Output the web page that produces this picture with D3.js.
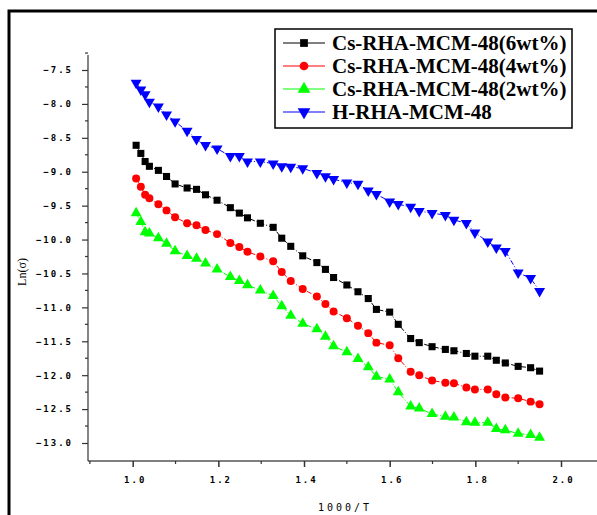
<!DOCTYPE html>
<html>
<head>
<meta charset="utf-8">
<script src="https://d3js.org/d3.v7.min.js"></script>
<style>
  body { margin: 0; background: #fff; }
  .tick text { font-family: "DejaVu Sans Mono", monospace; font-weight: bold; font-size: 9px; letter-spacing: 2px; fill: #000; }
</style>
</head>
<body>
<div class="chart"></div>
<script>
var svgWidth = 597;
var svgHeight = 515;

// 1000/T values (shared by all series)
var invT = [1.008, 1.019, 1.029, 1.039, 1.06, 1.079, 1.099, 1.127, 1.149, 1.17,
  1.197, 1.228, 1.249, 1.268, 1.298, 1.328, 1.348, 1.369, 1.397, 1.43,
  1.45, 1.469, 1.5, 1.526, 1.55, 1.569, 1.6, 1.62, 1.649, 1.669,
  1.699, 1.73, 1.75, 1.779, 1.799, 1.829, 1.849, 1.87, 1.9, 1.929, 1.95];

var cs6 = [-8.61, -8.73, -8.85, -8.92, -8.98, -9.07, -9.18, -9.24, -9.26, -9.34,
  -9.42, -9.53, -9.61, -9.68, -9.76, -9.82, -9.98, -10.10, -10.24, -10.34,
  -10.44, -10.56, -10.67, -10.77, -10.87, -11.03, -11.07, -11.25, -11.46, -11.52,
  -11.58, -11.62, -11.64, -11.68, -11.72, -11.72, -11.78, -11.82, -11.87, -11.89, -11.94];

var cs4 = [-9.10, -9.22, -9.34, -9.39, -9.48, -9.57, -9.67, -9.76, -9.79, -9.86,
  -9.92, -10.05, -10.11, -10.18, -10.25, -10.32, -10.48, -10.61, -10.73, -10.84,
  -10.95, -11.06, -11.16, -11.27, -11.38, -11.52, -11.56, -11.75, -11.95, -12.00,
  -12.08, -12.11, -12.12, -12.18, -12.21, -12.21, -12.28, -12.33, -12.34, -12.39, -12.43];

var cs2 = [-9.61, -9.74, -9.89, -9.91, -9.98, -10.06, -10.17, -10.24, -10.28, -10.35,
  -10.44, -10.55, -10.61, -10.67, -10.75, -10.83, -10.98, -11.12, -11.24, -11.32,
  -11.43, -11.57, -11.66, -11.76, -11.88, -12.02, -12.06, -12.25, -12.46, -12.49,
  -12.57, -12.61, -12.62, -12.69, -12.70, -12.70, -12.79, -12.81, -12.86, -12.88, -12.92];

var hRha = [-7.69, -7.79, -7.86, -7.97, -8.04, -8.16, -8.26, -8.40, -8.52, -8.61,
  -8.66, -8.77, -8.77, -8.85, -8.85, -8.88, -8.92, -8.93, -8.95, -9.02,
  -9.07, -9.11, -9.16, -9.18, -9.28, -9.33, -9.44, -9.48, -9.52, -9.58,
  -9.61, -9.64, -9.71, -9.76, -9.90, -10.03, -10.12, -10.17, -10.49, -10.57, -10.76];

var seriesNames = ["Cs-RHA-MCM-48(6wt%)", "Cs-RHA-MCM-48(4wt%)", "Cs-RHA-MCM-48(2wt%)", "H-RHA-MCM-48"];
var seriesValues = [cs6, cs4, cs2, hRha];
var seriesColors = ["#000000", "#ff0000", "#00ff00", "#0000ff"];
var seriesSymbols = [d3.symbolSquare, d3.symbolCircle, d3.symbolTriangle, d3.symbolTriangle];

var xTicks = [1.0, 1.2, 1.4, 1.6, 1.8, 2.0];
var yTicks = [-7.5, -8.0, -8.5, -9.0, -9.5, -10.0, -10.5, -11.0, -11.5, -12.0, -12.5, -13.0];

var svg = d3.select(".chart")
  .append("svg")
  .attr("width", svgWidth)
  .attr("height", svgHeight);

// outer frame (runs off right/bottom edge)
svg.append("rect")
  .attr("x", 9).attr("y", 11)
  .attr("width", 620).attr("height", 540)
  .attr("fill", "none").attr("stroke", "#000").attr("stroke-width", 3);

// scales: pixel anchors
var x = d3.scaleLinear().domain([1.0, 2.0]).range([132.7, 561]);
var y = d3.scaleLinear().domain([-7.5, -13.0]).range([70, 443]);

var plotLeft = 88, plotBottom = 461, plotTop = 55;

// x axis
var xAxis = svg.append("g")
  .attr("transform", "translate(0," + plotBottom + ")");
xAxis.append("line")
  .attr("x1", plotLeft).attr("x2", svgWidth)
  .attr("stroke", "#555").attr("stroke-width", 1.5);
xAxis.call(d3.axisBottom(x).tickValues(xTicks).tickSize(6).tickPadding(10).tickFormat(d3.format(".1f")));
xAxis.select(".domain").remove();
xAxis.selectAll(".tick line").attr("stroke", "#333").attr("stroke-width", 1.5);
xAxis.selectAll(".tick text").attr("dx", 2);
// minor x ticks
xAxis.selectAll(".minor")
  .data([0.9, 1.1, 1.3, 1.5, 1.7, 1.9, 2.1].filter(function(d) { return x(d) >= plotLeft && x(d) < svgWidth; }))
  .enter().append("line")
  .attr("x1", function(d) { return x(d); }).attr("x2", function(d) { return x(d); })
  .attr("y1", 0).attr("y2", 3)
  .attr("stroke", "#333").attr("stroke-width", 1.2);

// y axis
var yAxis = svg.append("g")
  .attr("transform", "translate(" + plotLeft + ",0)");
yAxis.append("line")
  .attr("y1", plotTop).attr("y2", plotBottom)
  .attr("stroke", "#333").attr("stroke-width", 1.2);
yAxis.call(d3.axisLeft(y).tickValues(yTicks).tickSize(6).tickPadding(9).tickFormat(d3.format(".1f")));
yAxis.select(".domain").remove();
yAxis.selectAll(".tick line").attr("stroke", "#333").attr("stroke-width", 1.2);
yAxis.selectAll(".minor")
  .data([-7.25, -7.75, -8.25, -8.75, -9.25, -9.75, -10.25, -10.75, -11.25, -11.75, -12.25, -12.75])
  .enter().append("line")
  .attr("y1", function(d) { return y(d); }).attr("y2", function(d) { return y(d); })
  .attr("x1", 0).attr("x2", -3)
  .attr("stroke", "#333").attr("stroke-width", 1.2);

// axis titles
svg.append("text")
  .attr("x", 345).attr("y", 511)
  .attr("text-anchor", "middle")
  .style("font-family", "DejaVu Sans Mono, monospace")
  .style("font-size", "10px")
  .style("letter-spacing", "3px")
  .text("1000/T");

svg.append("text")
  .attr("transform", "translate(26,272) rotate(-90)")
  .attr("text-anchor", "middle")
  .style("font-family", "Liberation Serif, serif")
  .style("font-size", "12px")
  .text("Ln(σ)");

// series
var line = d3.line()
  .x(function(d) { return x(d[0]); })
  .y(function(d) { return y(d[1]); });

seriesValues.forEach(function(vals, i) {
  var pts = invT.map(function(t, j) { return [t, vals[j]]; });
  svg.append("path")
    .datum(pts)
    .attr("d", line)
    .attr("fill", "none")
    .attr("stroke", seriesColors[i])
    .attr("stroke-width", 1)
    .attr("stroke-dasharray", "5,2,1,2");

  var rot = i === 3 ? 180 : 0;
  svg.append("g").selectAll("path")
    .data(pts)
    .enter().append("path")
    .attr("d", d3.symbol().type(seriesSymbols[i]).size(i >= 2 ? 52 : 50))
    .attr("transform", function(d) { return "translate(" + x(d[0]) + "," + y(d[1]) + ") rotate(" + rot + ")"; })
    .attr("fill", seriesColors[i]);
});

// legend
var legend = svg.append("g");
legend.append("rect")
  .attr("x", 275).attr("y", 29)
  .attr("width", 297).attr("height", 99)
  .attr("fill", "#fff").attr("stroke", "#000").attr("stroke-width", 1.5);

seriesNames.forEach(function(name, i) {
  var ry = 43 + i * 23;
  legend.append("line")
    .attr("x1", 283).attr("x2", 325)
    .attr("y1", ry).attr("y2", ry)
    .attr("stroke", seriesColors[i]).attr("stroke-width", 1);
  legend.append("path")
    .attr("d", d3.symbol().type(seriesSymbols[i]).size(i >= 2 ? 70 : 60))
    .attr("transform", "translate(304," + ry + ") rotate(" + (i === 3 ? 180 : 0) + ")")
    .attr("fill", seriesColors[i]);
  legend.append("text")
    .attr("x", 332).attr("y", ry + 7)
    .style("font-family", "Liberation Serif, serif")
    .style("font-weight", "bold")
    .style("font-size", "21px")
    .text(name);
});
</script>
</body>
</html>
